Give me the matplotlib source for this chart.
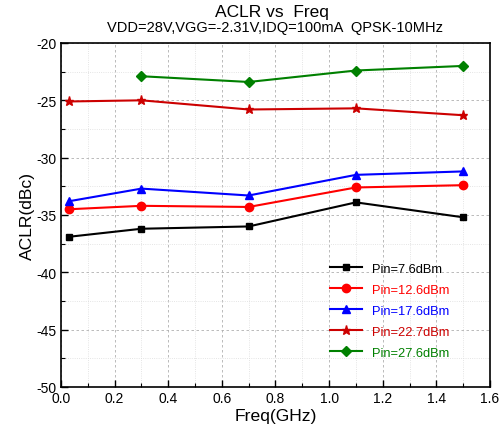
import matplotlib
matplotlib.use('Agg')
import matplotlib.pyplot as plt
from matplotlib.ticker import MultipleLocator

plt.rcParams['font.family'] = ['Liberation Sans', 'DejaVu Sans']
plt.rcParams['axes.unicode_minus'] = False

# Frequencies (GHz) and ACLR (dBc)
freq = [0.03, 0.3, 0.7, 1.1, 1.5]
freq_hi = [0.3, 0.7, 1.1, 1.5]
aclr_7p6 = [-36.9, -36.2, -36.0, -33.9, -35.2]
aclr_12p6 = [-34.5, -34.2, -34.3, -32.6, -32.4]
aclr_17p6 = [-33.8, -32.7, -33.3, -31.5, -31.2]
aclr_22p7 = [-25.1, -25.0, -25.8, -25.7, -26.3]
aclr_27p6 = [-22.9, -23.4, -22.4, -22.0]

fig = plt.figure(figsize=(5.01, 4.39), dpi=100)
ax = fig.add_axes([0.1218, 0.1162, 0.8562, 0.7836])

series = [
    (freq, aclr_7p6, 'black', 's', 5, 'Pin=7.6dBm'),
    (freq, aclr_12p6, '#ff0000', 'o', 6, 'Pin=12.6dBm'),
    (freq, aclr_17p6, '#0000ff', '^', 6, 'Pin=17.6dBm'),
    (freq, aclr_22p7, '#cc0000', '*', 6.5, 'Pin=22.7dBm'),
    (freq_hi, aclr_27p6, '#008000', 'D', 5, 'Pin=27.6dBm'),
]
for x, y, c, m, ms, lab in series:
    ax.plot(x, y, color=c, marker=m, markersize=ms, linewidth=1.5, label=lab)

ax.set_xlim(0, 1.6)
ax.set_ylim(-50, -20)
ax.xaxis.set_major_locator(MultipleLocator(0.2))
ax.xaxis.set_minor_locator(MultipleLocator(0.1))
ax.yaxis.set_major_locator(MultipleLocator(5))
ax.yaxis.set_minor_locator(MultipleLocator(2.5))
ax.xaxis.set_major_formatter(plt.FormatStrFormatter('%.1f'))
ax.tick_params(which='major', direction='in', length=5, width=1, labelsize=10, pad=3)
ax.tick_params(which='minor', direction='in', length=3, width=0.8)
ax.grid(which='major', color='#b0b0b0', linestyle=(0, (3, 3)), linewidth=0.6)
ax.grid(which='minor', color='#dcdcdc', linestyle=':', linewidth=0.6)
for s in ax.spines.values():
    s.set_linewidth(1.2)

ax.set_xlabel('Freq(GHz)', fontsize=12.6, labelpad=2)
ax.set_ylabel('ACLR(dBc)', fontsize=12.6, labelpad=1)

fig.text(0.542, 0.961, 'ACLR vs  Freq', ha='center', va='baseline', fontsize=12.5)
fig.text(0.548, 0.927, 'VDD=28V,VGG=-2.31V,IDQ=100mA  QPSK-10MHz',
         ha='center', va='baseline', fontsize=10.5)

leg = ax.legend(loc='upper left', bbox_to_anchor=(0.627, 0.362), frameon=False,
                fontsize=9.3, handlelength=2.5, handletextpad=0.75, labelspacing=0.7,
                borderpad=0, borderaxespad=0)
for txt, line in zip(leg.get_texts(), leg.get_lines()):
    txt.set_color(line.get_color())

fig.savefig('out.png', dpi=100)
